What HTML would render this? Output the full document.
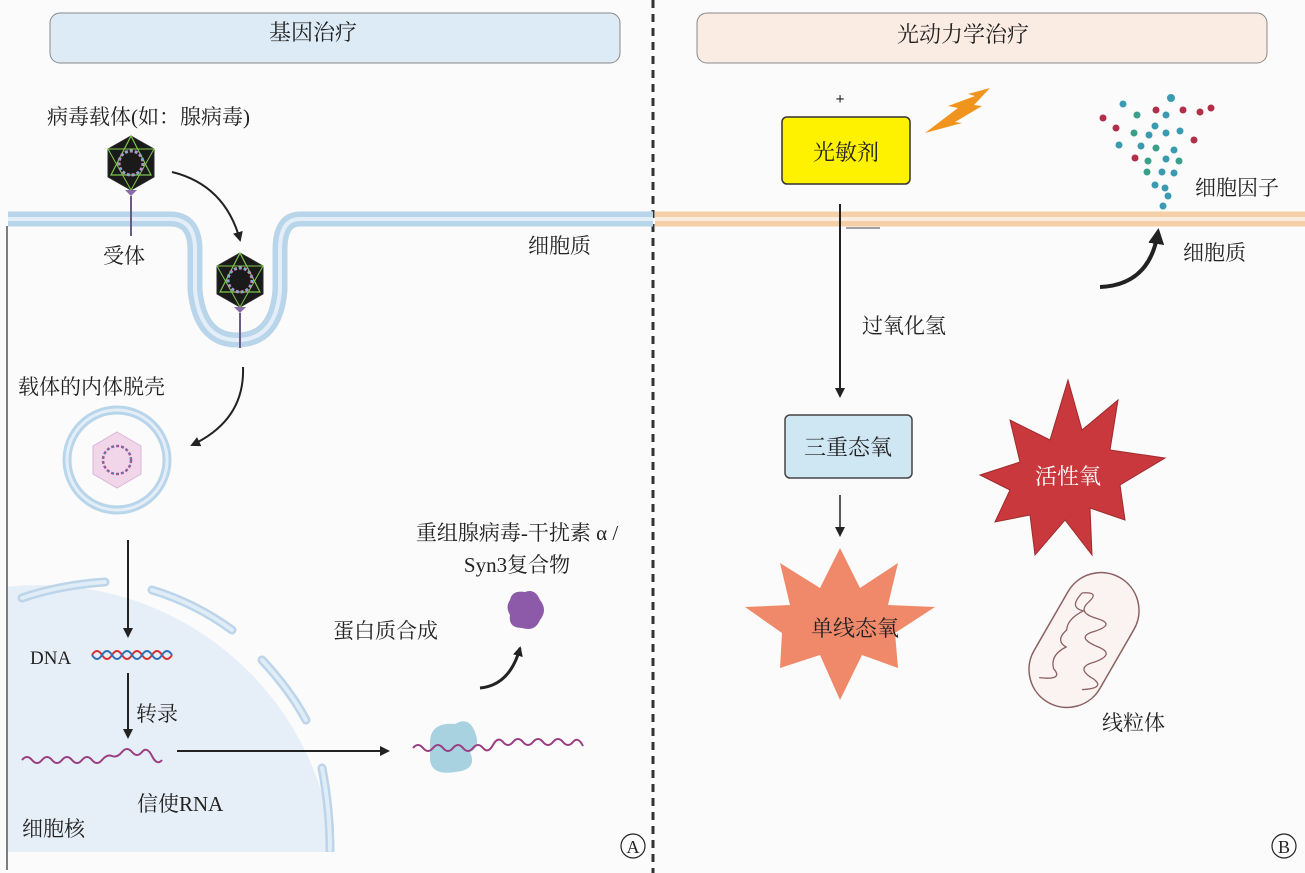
<!DOCTYPE html>
<html><head><meta charset="utf-8"><style>
html,body{margin:0;padding:0;background:#fbfbfb;width:1305px;height:873px;overflow:hidden}
svg{display:block}
svg text{font-family:"Liberation Serif","Noto Serif CJK SC","Noto Sans CJK SC",serif;fill:#222}
</style></head><body>
<svg width="1305" height="873" viewBox="0 0 1305 873" xmlns="http://www.w3.org/2000/svg">
<defs>
<marker id="ah" markerWidth="10" markerHeight="10" refX="8" refY="5" orient="auto" markerUnits="userSpaceOnUse"><path d="M0,0 L10,5 L0,10 Z" fill="#222"/></marker>
<marker id="ahs" markerWidth="16" markerHeight="16" refX="12" refY="8" orient="auto" markerUnits="userSpaceOnUse"><path d="M0,0 L16,8 L0,16 Z" fill="#222"/></marker>
<clipPath id="lc"><rect x="8" y="227" width="640" height="625"/></clipPath>
<g id="virus">
<polygon points="0,-27 23,-14 23,14 0,27 -23,14 -23,-14" fill="#1a1a1a" stroke="#2a2a2a"/>
<polygon points="0,-27 20,12 -20,12" fill="none" stroke="#7ec84a" stroke-width="1.2"/>
<polygon points="-23,-14 23,-14 0,27" fill="none" stroke="#7ec84a" stroke-width="1"/>
<circle r="12" fill="none" stroke="#d28cc8" stroke-width="3" stroke-dasharray="3 2"/>
<circle r="12" fill="none" stroke="#58b8c8" stroke-width="1.5" stroke-dasharray="2 3"/>
<path d="M-6,27 L0,33 L6,27" fill="#8a6aa8"/>
</g>
</defs>
<rect width="1305" height="873" fill="#fbfbfb"/>
<rect x="50" y="13" width="570" height="50" rx="10" fill="#dcebf6" stroke="#888" stroke-width="1"/>
<text x="313" y="40" font-size="22" text-anchor="middle">基因治疗</text>
<rect x="697" y="13" width="570" height="50" rx="10" fill="#fbece3" stroke="#888" stroke-width="1"/>
<text x="963" y="42" font-size="22" text-anchor="middle">光动力学治疗</text>
<line x1="653" y1="0" x2="653" y2="873" stroke="#333" stroke-width="3" stroke-dasharray="8 6"/>

<g clip-path="url(#lc)">
<circle cx="40" cy="880" r="295" fill="#e6eff7"/>
<g fill="none" stroke="#bcd5ea" stroke-width="9" stroke-linecap="round">
<path d="M22,598 Q60,585 105,582"/>
<path d="M152,590 Q195,603 232,630"/>
<path d="M262,660 Q290,690 306,720"/>
<path d="M322,768 Q330,810 330,850"/>
</g>
<g fill="none" stroke="#e0ecf6" stroke-width="4" stroke-linecap="round">
<path d="M22,598 Q60,585 105,582"/>
<path d="M152,590 Q195,603 232,630"/>
<path d="M262,660 Q290,690 306,720"/>
<path d="M322,768 Q330,810 330,850"/>
</g>
</g>
<path d="M8,219 L170,219 Q195,219 195,250 L195,290 Q200,340 237,340 Q276,340 280,290 L280,250 Q280,219 300,219 L653,219" fill="none" stroke="#b9d5ea" stroke-width="15"/>
<path d="M8,219 L170,219 Q195,219 195,250 L195,290 Q200,340 237,340 Q276,340 280,290 L280,250 Q280,219 300,219 L653,219" fill="none" stroke="#e3eef8" stroke-width="4"/>
<line x1="7" y1="226" x2="7" y2="870" stroke="#555" stroke-width="1.5"/>
<use href="#virus" x="131" y="163"/>
<line x1="131" y1="196" x2="131" y2="236" stroke="#6a5a8a" stroke-width="2"/>
<use href="#virus" x="240" y="280"/>
<line x1="240" y1="313" x2="240" y2="348" stroke="#6a5a8a" stroke-width="2"/>
<path d="M172,172 Q225,185 240,240" fill="none" stroke="#222" stroke-width="2" marker-end="url(#ah)"/>
<path d="M243,367 Q245,420 192,445" fill="none" stroke="#222" stroke-width="2" marker-end="url(#ah)"/>
<circle cx="117" cy="460" r="50" fill="none" stroke="#b9d5ea" stroke-width="9"/>
<circle cx="117" cy="460" r="50" fill="none" stroke="#e3eef8" stroke-width="3"/>
<polygon points="117,432 141,446 141,474 117,488 93,474 93,446" fill="#f1d6ea" stroke="#d8b6d8"/>
<circle cx="117" cy="460" r="14" fill="none" stroke="#b5508a" stroke-width="2.5" stroke-dasharray="3 2"/>
<circle cx="117" cy="460" r="14" fill="none" stroke="#3a8ab8" stroke-width="1.2" stroke-dasharray="2 3"/>
<line x1="128" y1="540" x2="128" y2="636" stroke="#222" stroke-width="2" marker-end="url(#ah)"/>
<line x1="128" y1="673" x2="128" y2="737" stroke="#222" stroke-width="2" marker-end="url(#ah)"/>
<path d="M92,655 q5,-8 10,0 t10,0 t10,0 t10,0 t10,0 t10,0 t10,0 t10,0" fill="none" stroke="#d83030" stroke-width="2"/>
<path d="M92,655 q5,8 10,0 t10,0 t10,0 t10,0 t10,0 t10,0 t10,0 t10,0" fill="none" stroke="#3070b8" stroke-width="2"/>
<path d="M22,760 q5,-6 10,0 t10,0 t10,0 t10,0 t10,0 t10,0 t10,0 t10,0 t10,-4 t10,-4 t10,0 t10,0 t10,4 t10,4" fill="none" stroke="#9a3e82" stroke-width="2"/>
<line x1="177" y1="751" x2="388" y2="751" stroke="#222" stroke-width="2" marker-end="url(#ah)"/>
<path d="M430,740 Q432,722 455,724 Q470,715 476,735 Q480,748 470,752 Q478,770 455,772 Q432,776 430,760 Z" fill="#a8d2e0"/>
<path d="M413,748 q5,-6 10,0 t10,0 t10,0 t10,0 t10,0 t10,0 t10,0 t10,-3 t10,-3 t10,0 t10,0 t10,0 t10,0 t10,0 t10,0 t10,0 t10,4" fill="none" stroke="#9a3e82" stroke-width="2"/>
<path d="M480,688 Q510,685 520,648" fill="none" stroke="#222" stroke-width="3" marker-end="url(#ah)"/>
<path d="M510,600 Q512,590 525,592 Q535,588 540,600 Q548,610 540,620 Q535,632 522,628 Q508,628 510,615 Q505,607 510,600 Z" fill="#8c5aa8"/>
<text x="47" y="124" font-size="21">病毒载体(如：腺病毒)</text>
<text x="103" y="263" font-size="21">受体</text>
<text x="528" y="253" font-size="21">细胞质</text>
<text x="18" y="394" font-size="21">载体的内体脱壳</text>
<text x="517" y="540" font-size="21" text-anchor="middle">重组腺病毒-干扰素 α /</text>
<text x="517" y="572" font-size="21" text-anchor="middle">Syn3复合物</text>
<text x="333" y="638" font-size="21">蛋白质合成</text>
<text x="30" y="664" font-size="19">DNA</text>
<text x="136" y="721" font-size="21">转录</text>
<text x="137" y="811" font-size="21">信使RNA</text>
<text x="22" y="836" font-size="21">细胞核</text>
<circle cx="633" cy="846" r="12" fill="none" stroke="#222" stroke-width="1.2"/>
<text x="633" y="853" font-size="18" text-anchor="middle">A</text>

<line x1="655" y1="219" x2="1305" y2="219" stroke="#f4cfa8" stroke-width="15"/>
<line x1="655" y1="219" x2="1305" y2="219" stroke="#fbece0" stroke-width="4"/>
<text x="840" y="104" font-size="16" text-anchor="middle" font-weight="bold">+</text>
<rect x="782" y="117" width="128" height="67" rx="5" fill="#fff200" stroke="#333" stroke-width="1.5"/>
<text x="846" y="160" font-size="22" text-anchor="middle">光敏剂</text>
<polygon points="925,133 958,108 948,106 975,96 968,94 990,88 974,105 982,106 955,122 962,123" fill="#f0941e"/>
<g>
<circle cx="1171" cy="98" r="4" fill="#3a9ab0"/><circle cx="1123" cy="104" r="3.5" fill="#3a9ab0"/>
<circle cx="1156" cy="110" r="3.5" fill="#b0304a"/><circle cx="1183" cy="110" r="3.5" fill="#b0304a"/>
<circle cx="1200" cy="112" r="3.5" fill="#b0304a"/><circle cx="1211" cy="108" r="3.5" fill="#b0304a"/>
<circle cx="1137" cy="115" r="3.5" fill="#3aa08a"/><circle cx="1166" cy="115" r="3.5" fill="#3a9ab0"/>
<circle cx="1103" cy="118" r="3.5" fill="#b0304a"/><circle cx="1116" cy="128" r="3.5" fill="#b0304a"/>
<circle cx="1155" cy="126" r="3.5" fill="#3a9ab0"/><circle cx="1134" cy="133" r="3.5" fill="#3aa08a"/>
<circle cx="1149" cy="135" r="3.5" fill="#3a9ab0"/><circle cx="1166" cy="133" r="3.5" fill="#3a9ab0"/>
<circle cx="1180" cy="131" r="3.5" fill="#3a9ab0"/><circle cx="1194" cy="140" r="3.5" fill="#b0304a"/>
<circle cx="1119" cy="145" r="3.5" fill="#3a9ab0"/><circle cx="1141" cy="146" r="3.5" fill="#3a9ab0"/>
<circle cx="1156" cy="148" r="3.5" fill="#3aa08a"/><circle cx="1174" cy="150" r="3.5" fill="#3a9ab0"/>
<circle cx="1135" cy="158" r="3.5" fill="#b0304a"/><circle cx="1148" cy="161" r="3.5" fill="#3aa08a"/>
<circle cx="1166" cy="159" r="3.5" fill="#3a9ab0"/><circle cx="1179" cy="161" r="3.5" fill="#3aa08a"/>
<circle cx="1147" cy="172" r="3.5" fill="#3aa08a"/><circle cx="1162" cy="172" r="3.5" fill="#3a9ab0"/>
<circle cx="1174" cy="173" r="3.5" fill="#3a9ab0"/><circle cx="1155" cy="185" r="3.5" fill="#3a9ab0"/>
<circle cx="1165" cy="188" r="3.5" fill="#3a9ab0"/><circle cx="1168" cy="196" r="3.5" fill="#3a9ab0"/>
<circle cx="1163" cy="206" r="3.5" fill="#3a9ab0"/>
</g>
<text x="1195" y="195" font-size="21">细胞因子</text>
<text x="1183" y="260" font-size="21">细胞质</text>
<path d="M1100,287 Q1150,285 1158,232" fill="none" stroke="#222" stroke-width="4" marker-end="url(#ahs)"/>
<line x1="840" y1="204" x2="840" y2="396" stroke="#222" stroke-width="2" marker-end="url(#ah)"/>
<line x1="846" y1="228" x2="880" y2="228" stroke="#444" stroke-width="1"/>
<text x="862" y="333" font-size="21">过氧化氢</text>
<rect x="785" y="415" width="127" height="63" rx="5" fill="#cfe6f3" stroke="#444" stroke-width="1.5"/>
<text x="848" y="455" font-size="22" text-anchor="middle">三重态氧</text>
<line x1="840" y1="495" x2="840" y2="535" stroke="#222" stroke-width="1.5" marker-end="url(#ah)"/>
<polygon points="840,548 860,588 898,563 888,605 935,607 895,633 898,668 862,655 840,700 820,655 780,668 782,633 745,607 790,605 780,563 820,588" fill="#f0896a"/>
<text x="855" y="636" font-size="22" text-anchor="middle">单线态氧</text>
<polygon points="1068,380 1082,430 1118,400 1110,450 1165,458 1120,485 1125,520 1090,508 1092,555 1065,520 1035,555 1030,515 995,522 1010,490 980,475 1020,462 1010,420 1050,440" fill="#c8383c" stroke="#a02a2e"/>
<text x="1068" y="484" font-size="22" text-anchor="middle" style="fill:#fff">活性氧</text>
<g transform="translate(1084,640) rotate(30)">
<rect x="-38" y="-72" width="76" height="144" rx="38" fill="#fbf3f1" stroke="#8a6060" stroke-width="1.5"/>
<path d="M-25,-40 q15,-10 10,5 q-5,15 15,10 q20,-5 5,12 q-15,15 10,12 q20,-3 5,15 q-15,15 8,15 q15,2 -5,15 M-25,-40 q-5,20 10,15 q-10,15 -5,25 q-5,15 8,15 q-10,15 0,25 q15,5 -8,15" fill="none" stroke="#8a6060" stroke-width="1.3"/>
</g>
<text x="1102" y="730" font-size="21">线粒体</text>
<circle cx="1284" cy="846" r="12" fill="none" stroke="#222" stroke-width="1.2"/>
<text x="1284" y="853" font-size="18" text-anchor="middle">B</text>
</svg>
</body></html>
